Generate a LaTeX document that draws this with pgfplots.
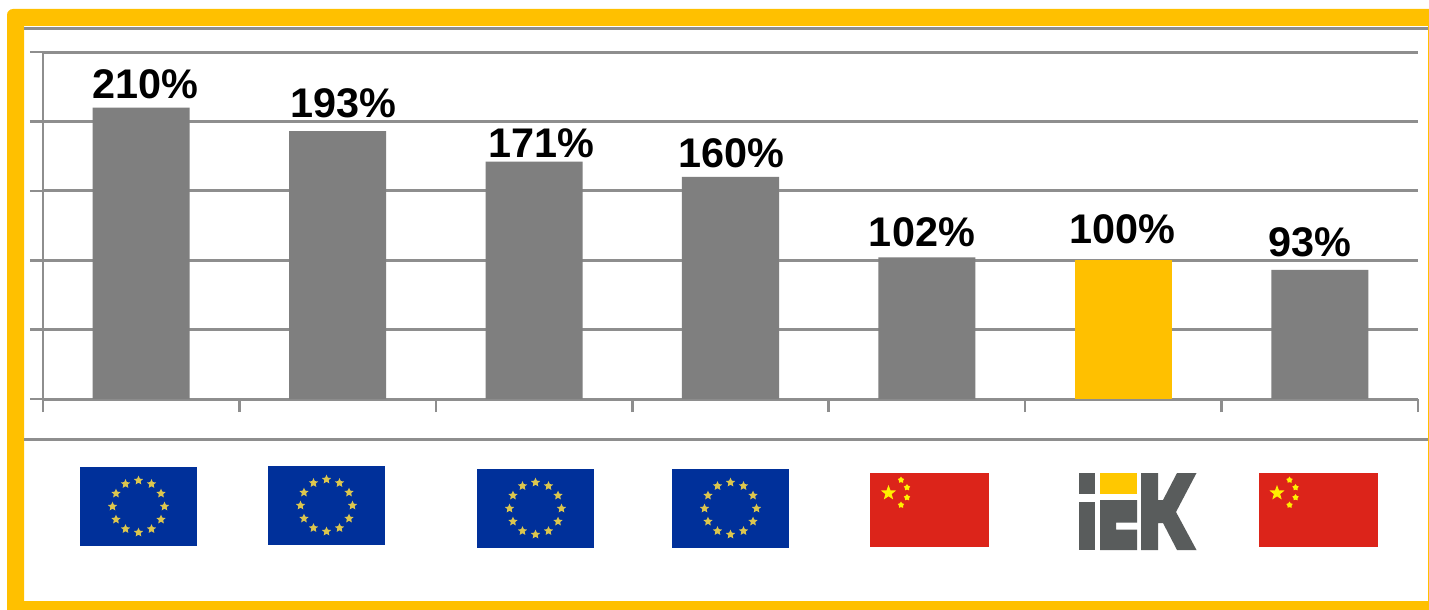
\documentclass[border=0pt]{standalone}
\usepackage{fontspec}
\setmainfont{Liberation Sans}
\usepackage{pgfplots}
\usepackage{pgfplotstable}
\pgfplotsset{compat=1.18}
\usetikzlibrary{shapes.geometric,calc}

\definecolor{frameyellow}{HTML}{FFC000}
\definecolor{barGray}{HTML}{7F7F7F}
\definecolor{ruleGray}{HTML}{8E8E8E}
\definecolor{euBlue}{HTML}{00309A}
\definecolor{euStar}{HTML}{DCC64E}
\definecolor{cnRed}{HTML}{DC241A}
\definecolor{cnStar}{HTML}{FFF000}
\definecolor{logoGray}{HTML}{595C5C}
\definecolor{logoYellow}{HTML}{FFC800}

% x, y: category position, value; dx, dy: label offset in pt
\pgfplotstableread{
x y   dx    dy
0 210 2.0   4.5
1 193 3.0   7.0
2 171 3.5   2.0
3 160 0.5   4.5
4 102 -2.5  5.5
6 93  -5.0  6.5
}\otherbrands
\pgfplotstableread{
x y   dx    dy
5 100 -0.5  8.5
}\ownbrand

% EU flag: left, top (pixel units)
\newcommand{\euflag}[2]{%
  \fill[euBlue] (#1,#2) rectangle ++(117,79);
  \foreach \a in {0,30,...,330}
    \node[star,star points=5,star point ratio=2.1,minimum size=4.8pt,inner sep=0pt,
          fill=euStar,draw=none] at ($(#1,#2)+(58.5,39.5)+(\a:26)$) {};
}
% Chinese flag: left, top (pixel units)
\newcommand{\cnflag}[2]{%
  \fill[cnRed] (#1,#2) rectangle ++(119,74);
  \node[star,star points=5,star point ratio=2.4,minimum size=8pt,inner sep=0pt,
        fill=cnStar,draw=none] at ($(#1,#2)+(18.5,20)$) {};
  \foreach \sx/\sy in {31/7,37/14.5,37/24.5,31/32}
    \node[star,star points=5,star point ratio=1.6,minimum size=3.4pt,inner sep=0pt,
          fill=cnStar,draw=none] at ($(#1,#2)+(\sx,\sy)$) {};
}

\begin{document}
\begin{tikzpicture}[x=0.5pt,y=-0.5pt]
\useasboundingbox (0,0) rectangle (1429,610);
\fill[white] (0,0) rectangle (1429,610);

% outer frame
\fill[frameyellow,even odd rule]
  (7,610) [rounded corners=3pt] -- (7,9) [sharp corners] -- (1429,9) -- (1429,610) -- cycle
  (24,26) rectangle (1428,601);

% rules below the frame top and above the flag strip
\draw[ruleGray,line width=1.5pt] (24,29) -- (1428,29);
\draw[ruleGray,line width=1.5pt] (24,439.5) -- (1428,439.5);

\begin{axis}[
  at={(21.5pt,-199.5pt)}, anchor=south west,
  scale only axis, width=687.5pt, height=173.5pt,
  xmin=-0.5, xmax=6.5, ymin=0, ymax=250,
  axis lines*=left,
  axis line style={ruleGray,line width=1.3pt},
  xtick={-0.5,0.5,...,6.5}, ytick={0,50,...,250},
  xticklabels={}, yticklabels={},
  tick align=outside, major tick length=6.5pt,
  tick style={ruleGray,line width=1.3pt},
  ymajorgrids,
  grid style={ruleGray,line width=1.5pt},
  clip=false,
  ybar, bar width=48.5pt, bar shift=0pt,
  /pgf/number format/assume math mode=true,
  visualization depends on={\thisrow{dx} \as \labdx},
  visualization depends on={\thisrow{dy} \as \labdy},
  nodes near coords={\pgfmathprintnumber{\pgfplotspointmeta}\%},
  every node near coord/.append style={
    font=\fontsize{20.7}{24}\selectfont\bfseries, text=black,
    anchor=base, inner sep=0pt, xshift=\labdx pt, yshift=\labdy pt},
]
\addplot[fill=barGray,draw=none] table[x=x,y=y] {\otherbrands};
\addplot[fill=frameyellow,draw=none] table[x=x,y=y] {\ownbrand};
\end{axis}

% flag strip
\euflag{80}{467}
\euflag{268}{466}
\euflag{477}{469}
\euflag{672}{469}
\cnflag{870}{473}
\cnflag{1258.5}{473}

% company logo
\fill[logoGray] (1079,473) rectangle (1094.5,494);
\fill[logoYellow] (1100,473) rectangle (1137,494);
\fill[logoGray] (1079,502) rectangle (1094.5,550);
\fill[logoGray] (1100,500) -- (1137,500) -- (1137,522.5) -- (1116,522.5) -- (1116,529.5)
  -- (1137,529.5) -- (1137,550) -- (1100,550) -- cycle;
\fill[logoGray] (1141,473) -- (1158,473) -- (1158,500) -- (1163,500) -- (1177,473)
  -- (1196.5,473) -- (1176,512) -- (1196.5,550) -- (1177,550) -- (1163,523)
  -- (1158,523) -- (1158,550) -- (1141,550) -- cycle;
\end{tikzpicture}
\end{document}
